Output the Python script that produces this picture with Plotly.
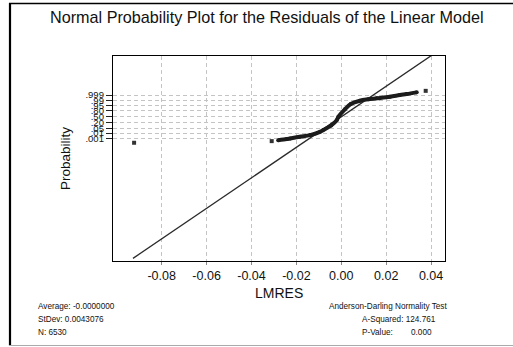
from statistics import NormalDist
import plotly.graph_objects as go

# ---- data ----
# dense band of ordered residuals (residual, cumulative probability)
BAND_RESID = [-0.0281, -0.0243, -0.0228, -0.0184, -0.0139, -0.0095, -0.0080,
              -0.0045, -0.0020, -0.0013, 0.0016, 0.0042, 0.0083, 0.0120,
              0.0158, 0.0217, 0.0261, 0.0291, 0.0336]
BAND_PROB = [0.00043, 0.00074, 0.0010, 0.0022, 0.0045, 0.016, 0.0287,
             0.11, 0.32, 0.50, 0.855, 0.965, 0.989, 0.9935,
             0.9957, 0.9979, 0.99903, 0.99940, 0.99975]
# isolated extreme residuals
TAIL_RESID = [-0.0923, -0.0310, 0.0376]
TAIL_PROB = [0.000107, 0.00026, 0.99989]

# fitted normal line
LINE_MEAN = 0.0
LINE_SIGMA = 0.0046
LINE_RESID = [-0.0928, 0.050]

X_TICKS = [-0.08, -0.06, -0.04, -0.02, 0.00, 0.02, 0.04]
X_TICK_LABELS = ["-0.08", "-0.06", "-0.04", "-0.02", "0.00", "0.02", "0.04"]
Y_TICK_PROBS = [0.001, 0.01, 0.05, 0.20, 0.50, 0.80, 0.95, 0.99, 0.999]
Y_TICK_LABELS = [".001", ".01", ".05", ".20", ".50", ".80", ".95", ".99", ".999"]

TITLE = "Normal Probability Plot for the Residuals of the Linear Model"
STATS_LEFT = ["Average: -0.0000000", "StDev: 0.0043076", "N: 6530"]
STATS_RIGHT_HEAD = "Anderson-Darling Normality Test"
STATS_RIGHT = [("A-Squared:", "124.761"), ("P-Value:", "0.000")]

# ---- geometry ----
W, H = 513, 347
L, R, T, B = 113, 68, 56, 86
PW, PH = W - L - R, H - T - B
FONT = "Liberation Sans, Arial, sans-serif"

nd = NormalDist()
z = lambda p: nd.inv_cdf(p)

def px(xp):
    return (xp - L) / PW

def py(yp):
    return (H - B - yp) / PH

fig = go.Figure()

# fitted line
fig.add_trace(go.Scatter(
    x=LINE_RESID, y=[(r - LINE_MEAN) / LINE_SIGMA for r in LINE_RESID],
    mode="lines", line=dict(color="#2a2a2a", width=1.3),
    hoverinfo="skip", showlegend=False))

# dense band
fig.add_trace(go.Scatter(
    x=BAND_RESID, y=[z(p) for p in BAND_PROB],
    mode="lines+markers", line=dict(color="#1c1c1c", width=4, shape="spline"),
    marker=dict(color="#1c1c1c", size=4),
    showlegend=False))

# extremes
fig.add_trace(go.Scatter(
    x=TAIL_RESID, y=[z(p) for p in TAIL_PROB],
    mode="markers", marker=dict(color="#333333", size=4, symbol="square"),
    showlegend=False))

grid = dict(showgrid=True, gridcolor="#c4c4c4", gridwidth=1, griddash="4px,3px")

fig.update_xaxes(
    range=[-0.1017, 0.0462], tickvals=X_TICKS, ticktext=X_TICK_LABELS,
    ticks="outside", ticklen=3, tickcolor="#888888",
    tickfont=dict(family=FONT, size=12.5, color="#111"),
    showline=True, linecolor="black", linewidth=1.3, mirror=True,
    zeroline=False, **grid)
fig.update_yaxes(
    range=[-20.55, 8.66], tickvals=[z(p) for p in Y_TICK_PROBS],
    ticktext=Y_TICK_LABELS,
    ticks="outside", ticklen=6, tickcolor="#222",
    tickfont=dict(family=FONT, size=9.5, color="#111"),
    showline=True, linecolor="black", linewidth=1.3, mirror=True,
    zeroline=False, **grid)

ann = []
ann.append(dict(text=TITLE, x=px(266.5), y=py(17), xref="paper", yref="paper",
                showarrow=False, xanchor="center", yanchor="middle",
                font=dict(family=FONT, size=16.2, color="#111")))
ann.append(dict(text="LMRES", x=px(279), y=py(293), xref="paper", yref="paper",
                showarrow=False, xanchor="center", yanchor="middle",
                font=dict(family=FONT, size=14, color="#111")))
ann.append(dict(text="Probability", x=px(65), y=py(159), xref="paper", yref="paper",
                showarrow=False, xanchor="center", yanchor="middle", textangle=-90,
                font=dict(family=FONT, size=13.5, color="#111")))
for i, t in enumerate(STATS_LEFT):
    ann.append(dict(text=t, x=px(36), y=py(306 + 13.4 * i), xref="paper", yref="paper",
                    showarrow=False, xanchor="left", yanchor="middle",
                    font=dict(family=FONT, size=8.2, color="#111")))
ann.append(dict(text=STATS_RIGHT_HEAD, x=px(327), y=py(306), xref="paper", yref="paper",
                showarrow=False, xanchor="left", yanchor="middle",
                font=dict(family=FONT, size=8.2, color="#111")))
for i, (lab, val) in enumerate(STATS_RIGHT):
    yy = py(319.5 + 13.3 * i)
    if i == 0:
        ann.append(dict(text=lab + " " + val, x=px(360), y=yy, xref="paper", yref="paper",
                        showarrow=False, xanchor="left", yanchor="middle",
                        font=dict(family=FONT, size=8.2, color="#111")))
    else:
        ann.append(dict(text=lab, x=px(360), y=yy, xref="paper", yref="paper",
                        showarrow=False, xanchor="left", yanchor="middle",
                        font=dict(family=FONT, size=8.2, color="#111")))
        ann.append(dict(text=val, x=px(409), y=yy, xref="paper", yref="paper",
                        showarrow=False, xanchor="left", yanchor="middle",
                        font=dict(family=FONT, size=8.2, color="#111")))

shapes = [
    # outer frame: top, left (black), bottom (gray)
    dict(type="line", xref="paper", yref="paper", x0=px(9), x1=px(513), y0=py(3.5), y1=py(3.5),
         line=dict(color="black", width=1.5)),
    dict(type="line", xref="paper", yref="paper", x0=px(10), x1=px(10), y0=py(3), y1=py(345.5),
         line=dict(color="black", width=2.2)),
    dict(type="line", xref="paper", yref="paper", x0=px(9), x1=px(513), y0=py(345.5), y1=py(345.5),
         line=dict(color="#aaaaaa", width=1)),
]

fig.update_layout(
    width=W, height=H, margin=dict(l=L, r=R, t=T, b=B, pad=0),
    paper_bgcolor="white", plot_bgcolor="white",
    annotations=ann, shapes=shapes, showlegend=False,
    font=dict(family=FONT))

fig.write_html("out.html")
